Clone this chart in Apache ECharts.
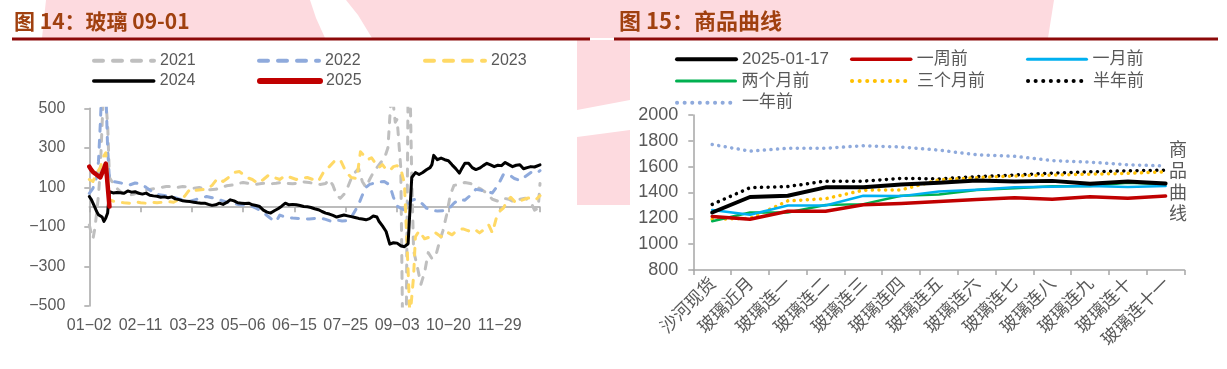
<!DOCTYPE html>
<html><head><meta charset="utf-8">
<script src="https://cdn.jsdelivr.net/npm/echarts@6/dist/echarts.min.js"></script>
<style>html,body{margin:0;padding:0;background:#fff}#c{width:1227px;height:369px}</style>
</head><body><div id="c"></div>
<script>
// ---------- texts ----------
const leftTitle = '图 14：玻璃 09-01';
const rightTitle = '图 15：商品曲线';
const rightSideLabel = '商品曲线';

// ---------- left chart: glass 09-01 spread, by trading day ----------
const dateTickLabels = ['01-02','02-11','03-23','05-06','06-15','07-25','09-03','10-20','11-29'];
const daysPerTick = 28;
const lastDay = 246;
const yTickValues = [-500, -300, -100, 100, 300, 500];

const s2021 = [[0,-90],[1,-130],[2,-160],[3,-110],[4,-30],[5,60],[6,190],[7,420],[8,650],[9,650],[10,420],[11,150],[13,120],[15,95],[18,70],[21,60],[24,65],[27,75],[30,85],[33,90],[36,95],[39,100],[42,104],[45,104],[48,100],[51,104],[54,102],[57,96],[60,100],[63,92],[66,88],[69,90],[72,100],[75,108],[78,112],[81,120],[84,125],[87,120],[90,115],[93,118],[96,122],[99,118],[102,121],[105,125],[108,120],[111,118],[114,122],[117,128],[120,125],[123,118],[126,115],[129,120],[131,140],[133,110],[135,60],[137,45],[139,65],[141,100],[143,146],[145,175],[147,195],[149,130],[151,100],[153,140],[155,175],[157,200],[159,225],[161,245],[163,300],[165,600],[166,600],[167,430],[168,445],[169,440],[170,200],[171,-600],[172,-650],[173,-600],[174,600],[175,650],[176,150],[177,-220],[179,-300],[181,-390],[183,-330],[185,-230],[187,-260],[189,-250],[191,-180],[193,-120],[195,-40],[197,60],[199,110],[202,115],[205,125],[208,120],[211,105],[214,90],[217,70],[220,40],[223,30],[226,45],[229,40],[232,25],[235,40],[238,45],[241,25],[243,-15],[245,-5],[246,120]];

const s2022 = [[0,70],[1,60],[2,95],[3,130],[4,150],[5,230],[6,420],[7,650],[8,650],[9,600],[10,300],[11,140],[13,130],[16,125],[19,118],[22,112],[25,122],[28,118],[31,100],[34,80],[37,65],[40,60],[43,55],[46,50],[49,42],[52,35],[55,30],[58,38],[61,45],[64,54],[67,48],[70,40],[73,32],[76,22],[79,18],[82,12],[85,10],[88,8],[91,-5],[94,-20],[96,-35],[98,-50],[100,-65],[102,-72],[104,-40],[106,-47],[108,-52],[111,-55],[114,-57],[117,-58],[120,-60],[123,-57],[126,-55],[129,-62],[132,-72],[135,-65],[138,-70],[141,-68],[143,-50],[145,-20],[147,14],[149,60],[151,100],[153,115],[155,120],[157,122],[159,128],[161,130],[163,118],[165,80],[166,50],[168,5],[170,-5],[172,-15],[174,15],[176,35],[178,40],[180,30],[182,15],[184,-5],[187,-15],[190,-20],[193,-18],[196,-10],[199,20],[202,40],[205,35],[208,60],[211,90],[214,85],[217,78],[220,72],[223,110],[226,165],[229,165],[232,145],[235,135],[238,155],[241,175],[244,170],[246,185]];

const s2023 = [[0,140],[2,130],[4,170],[6,200],[7,230],[8,260],[9,275],[10,150],[11,40],[13,30],[16,25],[19,22],[22,20],[25,28],[28,22],[31,20],[34,25],[37,22],[40,25],[43,28],[46,25],[49,40],[52,55],[54,80],[56,96],[58,85],[61,88],[64,90],[67,110],[70,146],[73,130],[76,150],[79,175],[82,180],[84,165],[86,150],[89,140],[92,120],[95,140],[98,163],[101,150],[104,140],[107,160],[110,150],[113,140],[116,148],[119,150],[122,140],[125,130],[128,180],[131,205],[134,235],[137,240],[140,180],[143,150],[146,145],[148,280],[150,260],[152,240],[154,250],[156,225],[158,200],[160,215],[162,190],[164,185],[166,205],[168,210],[170,195],[172,120],[173,-100],[174,-320],[175,-560],[176,-560],[177,-350],[178,-150],[180,-120],[183,-160],[186,-150],[189,-130],[192,-150],[195,-125],[198,-140],[201,-115],[204,-110],[207,-120],[210,-110],[213,-130],[216,-110],[218,-90],[220,-130],[222,-60],[224,-20],[226,-5],[228,30],[230,50],[233,20],[236,35],[239,45],[242,50],[244,40],[246,58]];

const s2024 = [[0,54],[1,40],[2,20],[3,0],[4,-22],[5,-38],[6,-45],[7,-50],[8,-72],[9,-55],[10,-30],[11,79],[12,75],[13,72],[15,74],[17,73],[19,70],[21,82],[23,76],[25,78],[27,70],[29,66],[31,71],[33,60],[35,57],[37,55],[39,50],[41,52],[43,48],[45,52],[47,42],[49,38],[51,32],[53,30],[55,28],[57,25],[59,22],[61,20],[63,20],[65,14],[67,9],[69,12],[71,20],[73,14],[75,24],[77,37],[79,32],[81,22],[83,20],[85,18],[87,20],[89,12],[91,8],[93,3],[95,-15],[97,-25],[99,-30],[101,-18],[103,-8],[105,5],[107,20],[109,12],[111,14],[113,12],[115,8],[117,3],[119,2],[121,-2],[123,-8],[125,-13],[127,-22],[129,-30],[131,-35],[133,-42],[135,-50],[137,-45],[139,-40],[141,-44],[143,-48],[145,-52],[147,-57],[149,-60],[151,-64],[153,-58],[155,-45],[156,-39],[157,-50],[158,-70],[160,-95],[162,-123],[164,-187],[166,-180],[168,-182],[170,-195],[172,-200],[173,-207],[174,-185],[176,150],[178,175],[180,165],[182,175],[184,189],[186,200],[187,215],[188,262],[190,240],[192,248],[194,240],[196,235],[198,214],[200,195],[202,172],[203,190],[205,222],[207,222],[209,200],[211,190],[213,197],[215,210],[217,222],[219,214],[221,205],[223,212],[225,210],[227,226],[229,215],[231,205],[233,212],[235,214],[237,194],[239,200],[241,205],[243,203],[246,214]];

const s2025 = [[0,205],[1,190],[2,178],[3,170],[4,164],[5,155],[6,150],[7,160],[8,195],[9,220],[10,215],[11,3]];

// ---------- right chart: commodity curve ----------
const curveCategories = ['沙河现货','玻璃近月','玻璃连一','玻璃连二','玻璃连三','玻璃连四','玻璃连五','玻璃连六','玻璃连七','玻璃连八','玻璃连九','玻璃连十','玻璃连十一'];
const curveNow       = [1245,1365,1375,1440,1440,1462,1475,1492,1485,1490,1468,1486,1470];
const curveWeek      = [1215,1193,1255,1255,1305,1315,1330,1345,1360,1348,1368,1356,1372];
const curveMonth     = [1265,1228,1300,1300,1375,1372,1407,1422,1440,1445,1450,1442,1450];
const curveTwoMonth  = [1178,1245,1245,1303,1310,1375,1385,1420,1432,1448,1450,1475,1464];
const curveThreeMonth= [1193,1200,1335,1352,1418,1420,1498,1515,1528,1535,1542,1548,1560];
const curveHalfYear  = [1308,1437,1446,1488,1488,1510,1505,1523,1535,1550,1560,1568,1573];
const curveYear      = [1772,1720,1742,1743,1762,1752,1728,1692,1680,1647,1635,1615,1605];
const curveNames = ['2025-01-17','一周前','一月前','两个月前','三个月前','半年前','一年前'];

// ---------- styling ----------
const FONT = '"Liberation Sans", Arial, "Noto Sans CJK SC", sans-serif';
const labelColor = '#595959';
const axisColor = '#A6A6A6';
const minus = s => String(s).replace('-', '\u2212');
const dashed = [7, 9];
const dotted = [0.1, 6.5];

const chart = echarts.init(document.getElementById('c'));

function lineSeries(name, data, color, width, type, xi, yi, z) {
  return {
    type: 'line', name, data, xAxisIndex: xi, yAxisIndex: yi,
    symbol: 'none', showSymbol: false, z, silent: true, clip: true,
    lineStyle: {color, width, type, cap: 'round', join: 'round'},
    itemStyle: {color}
  };
}

function legendItem(name, left, centerY, iconW, fontSize, iconLine) {
  const lg = {
    data: [name], left, top: centerY - 10, orient: 'horizontal',
    itemWidth: iconW, itemHeight: 14, itemGap: 5, selectedMode: false,
    padding: 0,
    itemStyle: {color: 'rgba(0,0,0,0)', borderColor: 'rgba(0,0,0,0)', borderWidth: 0, opacity: 0},
    textStyle: {color: labelColor, fontSize, fontFamily: FONT, lineHeight: 20, padding: [0,0,0,1]}
  };
  if (iconLine) lg.lineStyle = iconLine;
  return lg;
}

const dotIcon = {width: 4, type: [0.1, 7.5], cap: 'round'};
const legends = [
  legendItem('2021', 92, 60.7, 60, 16, {width: 4, type: [9, 10]}),
  legendItem('2022', 257, 60.7, 60, 16, {width: 4, type: [9, 10]}),
  legendItem('2023', 423, 60.7, 60, 16, {width: 4, type: [9, 10]}),
  legendItem('2024', 92, 81, 60, 16, {width: 3.5}),
  legendItem('2025', 257, 81, 60, 16, {width: 6}),
  legendItem(curveNames[0], 675, 59.3, 59, 17, {width: 4}),
  legendItem(curveNames[1], 850, 59.3, 59, 17, {width: 3.5}),
  legendItem(curveNames[2], 1026, 59.3, 59, 17, {width: 3}),
  legendItem(curveNames[3], 675, 81, 59, 17, {width: 3}),
  legendItem(curveNames[4], 850, 81, 59, 17, dotIcon),
  legendItem(curveNames[5], 1026, 81, 59, 17, dotIcon),
  legendItem(curveNames[6], 675, 102.7, 59, 17, dotIcon)
];

const pink = '#FDDADF';

const option = {
  animation: false,
  backgroundColor: '#fff',
  legend: legends,
  grid: [
    {left: 89.3, width: lastDay * 51.3 / daysPerTick, top: 108.3, height: 197.7, outerBoundsMode: 'none', containLabel: false},
    {left: 693.3, width: 491.2, top: 115, height: 155, outerBoundsMode: 'none', containLabel: false}
  ],
  xAxis: [
    {
      type: 'value', gridIndex: 0, min: 0, max: lastDay, interval: daysPerTick, position: 'bottom',
      axisLine: {show: false, onZero: false}, axisTick: {show: false}, splitLine: {show: false},
      axisLabel: {
        color: labelColor, fontSize: 16, fontFamily: FONT, margin: 12, showMaxLabel: false,
        formatter: v => {
          const i = v / daysPerTick;
          return Number.isInteger(i) && dateTickLabels[i] ? minus(dateTickLabels[i]) : '';
        }
      }
    },
    {
      type: 'value', gridIndex: 0, min: 0, max: lastDay, interval: daysPerTick, position: 'bottom',
      axisLine: {show: true, onZero: true, onZeroAxisIndex: 0, lineStyle: {color: axisColor, width: 1.5}},
      axisTick: {show: true, length: 5, lineStyle: {color: axisColor, width: 1.5}},
      axisLabel: {show: false}, splitLine: {show: false}
    },
    {
      type: 'category', gridIndex: 1, data: curveCategories, boundaryGap: true,
      axisLine: {show: true, lineStyle: {color: axisColor, width: 1.5}},
      axisTick: {show: true, length: 5, interval: 0, lineStyle: {color: axisColor, width: 1.5}},
      axisLabel: {interval: 0, rotate: 45, color: labelColor, fontSize: 17.5, fontFamily: '"Noto Sans CJK SC", sans-serif', margin: 10},
      splitLine: {show: false}
    }
  ],
  yAxis: [
    {
      type: 'value', gridIndex: 0, min: -500, max: 500, interval: 200,
      axisLine: {show: true, onZero: false, lineStyle: {color: axisColor, width: 1.5}},
      axisTick: {show: true, length: 5, lineStyle: {color: axisColor, width: 1.5}},
      axisLabel: {color: labelColor, fontSize: 16, fontFamily: FONT, margin: 24, formatter: v => yTickValues.includes(v) ? minus(v) : ''},
      splitLine: {show: false}
    },
    {
      type: 'value', gridIndex: 1, min: 800, max: 2000, interval: 200,
      axisLine: {show: true, onZero: false, lineStyle: {color: axisColor, width: 1.5}},
      axisTick: {show: true, length: 5, lineStyle: {color: axisColor, width: 1.5}},
      axisLabel: {color: labelColor, fontSize: 18, fontFamily: FONT, margin: 15, formatter: v => String(v)},
      splitLine: {show: false}
    }
  ],
  series: [
    lineSeries('2021', s2021, '#BFBFBF', 3, dashed, 0, 0, 2),
    lineSeries('2022', s2022, '#8FAADC', 3, dashed, 0, 0, 3),
    lineSeries('2023', s2023, '#FFD966', 3, dashed, 0, 0, 4),
    lineSeries('2024', s2024, '#000000', 3, 'solid', 0, 0, 5),
    lineSeries('2025', s2025, '#C00000', 4.5, 'solid', 0, 0, 6),
    lineSeries(curveNames[6], curveYear, '#8FAADC', 3.5, dotted, 2, 1, 2),
    lineSeries(curveNames[5], curveHalfYear, '#000000', 3.5, dotted, 2, 1, 3),
    lineSeries(curveNames[4], curveThreeMonth, '#FFC000', 3.5, dotted, 2, 1, 4),
    lineSeries(curveNames[3], curveTwoMonth, '#00B050', 2.5, 'solid', 2, 1, 5),
    lineSeries(curveNames[2], curveMonth, '#00B0F0', 2.5, 'solid', 2, 1, 6),
    lineSeries(curveNames[1], curveWeek, '#C00000', 3.5, 'solid', 2, 1, 7),
    lineSeries(curveNames[0], curveNow, '#000000', 4, 'solid', 2, 1, 8)
  ],
  graphic: [
    // faint background logo shapes
    {type: 'polygon', z: 0, silent: true, shape: {points: [[46,0],[310,0],[316,18],[325,38],[42,38]]}, style: {fill: pink}},
    {type: 'polygon', z: 0, silent: true, shape: {points: [[346,0],[1054,0],[1048,38],[372,38],[358,15]]}, style: {fill: pink}},
    {type: 'polygon', z: 0, silent: true, shape: {points: [[577,40],[630,40],[630,100],[577,110]]}, style: {fill: pink}},
    {type: 'polygon', z: 0, silent: true, shape: {points: [[577,137],[630,130],[630,205],[577,205]]}, style: {fill: pink}},
    // titles + rules
    {type: 'text', z: 100, silent: true, x: 14, y: 21, style: {text: leftTitle, font: 'bold 21px "Noto Sans CJK SC", sans-serif', fill: '#A0400F', verticalAlign: 'middle'}},
    {type: 'text', z: 100, silent: true, x: 619, y: 21, style: {text: rightTitle, font: 'bold 22px "Noto Sans CJK SC", sans-serif', fill: '#A0400F', verticalAlign: 'middle'}},
    {type: 'rect', z: 100, silent: true, shape: {x: 12, y: 37.5, width: 578, height: 3}, style: {fill: '#8C0A0A'}},
    {type: 'rect', z: 100, silent: true, shape: {x: 614, y: 37.5, width: 604, height: 3}, style: {fill: '#8C0A0A'}},
    // vertical side label of right chart
    {type: 'text', z: 100, silent: true, x: 1178, y: 138, style: {text: rightSideLabel.split('').join('\n'), font: '18px "Noto Sans CJK SC", sans-serif', lineHeight: 21.5, fill: labelColor, align: 'center'}}
  ]
};
chart.setOption(option);
</script>
</body></html>
